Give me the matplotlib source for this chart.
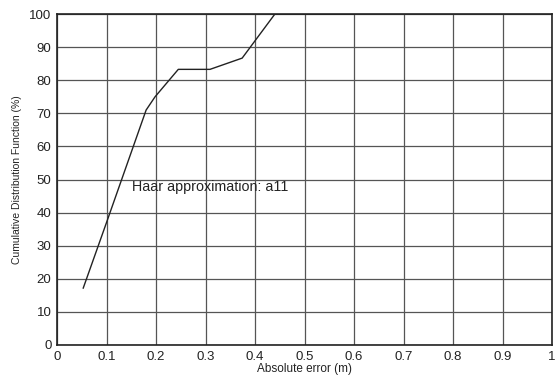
import matplotlib
matplotlib.use("Agg")
import matplotlib.pyplot as plt

# CDF of absolute error
abs_error = [0.053, 0.10, 0.18, 0.198, 0.245, 0.309, 0.374, 0.44, 0.60]
cdf_pct = [17.2, 37.0, 71.0, 75.0, 83.3, 83.3, 86.7, 100.0, 100.0]

x_ticks = [0, 0.1, 0.2, 0.3, 0.4, 0.5, 0.6, 0.7, 0.8, 0.9, 1]
x_tick_labels = ["0", "0.1", "0.2", "0.3", "0.4", "0.5", "0.6", "0.7", "0.8", "0.9", "1"]
y_ticks = list(range(0, 101, 10))

plt.rcParams['font.family'] = ['Liberation Sans', 'DejaVu Sans']

fig = plt.figure(figsize=(5.56, 3.81), dpi=100)
ax = fig.add_axes([0.1025, 0.0945, 0.8905, 0.8685])

ax.plot(abs_error, cdf_pct, color='#222222', lw=1.0)

ax.text(0.152, 47.7, "Haar approximation: a11", fontsize=10.3, color='#222222',
        ha='left', va='center')

ax.set_xlim(0, 1)
ax.set_ylim(0, 100)
ax.set_xticks(x_ticks)
ax.set_xticklabels(x_tick_labels)
ax.set_yticks(y_ticks)
ax.tick_params(labelsize=9.5, length=0, pad=4, colors='#222222')
ax.grid(True, color='#555555', lw=0.9, linestyle='-')
ax.set_axisbelow(True)
for s in ax.spines.values():
    s.set_color('#222222')
    s.set_linewidth(1.2)

ax.set_xlabel("Absolute error (m)", fontsize=8.5, labelpad=0, color='#222222')
ax.set_ylabel("Cumulative Distribution Function (%)", fontsize=7.5, labelpad=5, color='#222222')

fig.savefig("out.png", dpi=100)
